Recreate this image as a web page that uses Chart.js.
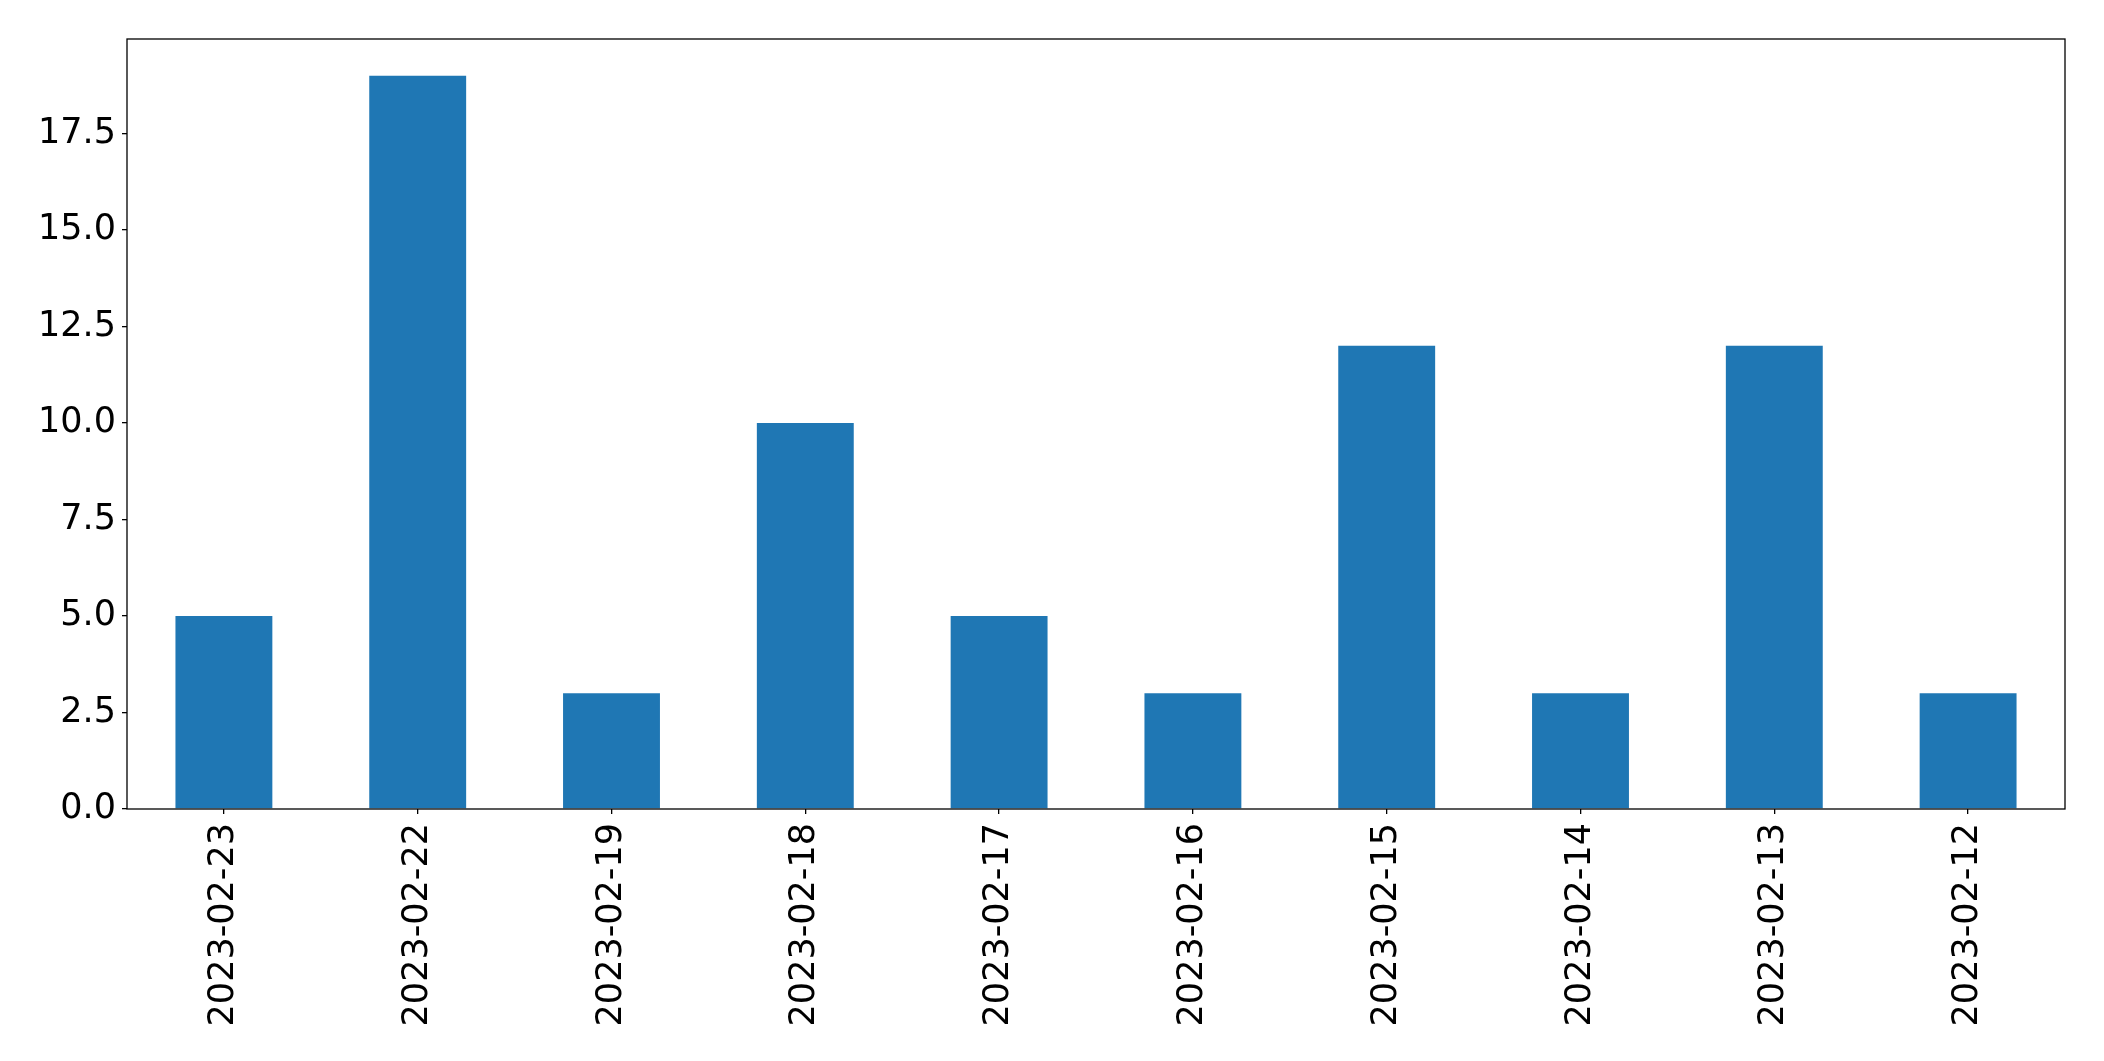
<!DOCTYPE html>
<html>
<head>
<meta charset="utf-8">
<script src="https://cdn.jsdelivr.net/npm/chart.js@4/dist/chart.umd.min.js"></script>
<style>
html,body{margin:0;padding:0;background:#fff;}
canvas{display:block;}
</style>
</head>
<body>
<canvas id="c" width="2104" height="1061"></canvas>
<script>
const categories = ["2023-02-23","2023-02-22","2023-02-19","2023-02-18","2023-02-17","2023-02-16","2023-02-15","2023-02-14","2023-02-13","2023-02-12"];
const values = [5, 19, 3, 10, 5, 3, 12, 3, 12, 3];
const yMax = 19.95;
const yStep = 2.5;

const frame = {
  id: 'frame',
  afterDraw(chart) {
    const a = chart.chartArea, ctx = chart.ctx;
    ctx.save();
    ctx.strokeStyle = '#000';
    ctx.lineWidth = 1.3;
    ctx.strokeRect(a.left, a.top, a.right - a.left, a.bottom - a.top);
    ctx.restore();
  }
};

new Chart(document.getElementById('c'), {
  type: 'bar',
  data: {
    labels: categories,
    datasets: [{ data: values, backgroundColor: '#1f77b4', borderWidth: 0, barPercentage: 0.5, categoryPercentage: 1.0 }]
  },
  options: {
    responsive: false,
    animation: false,
    layout: { padding: { top: 39, right: 39, left: 0, bottom: 0 } },
    plugins: { legend: { display: false }, tooltip: { enabled: false } },
    scales: {
      x: {
        offset: true,
        grid: { display: true, offset: false, drawOnChartArea: false, drawTicks: true, tickLength: 5, color: '#000', lineWidth: 1.3 },
        border: { display: false },
        ticks: { color: '#000', font: { family: 'DejaVu Sans', size: 35 }, maxRotation: 90, minRotation: 90, padding: 9, autoSkip: false },
        afterFit(s) { s.height = 1061 - 809; }
      },
      y: {
        min: 0, max: yMax,
        grid: { display: true, drawOnChartArea: false, drawTicks: true, tickLength: 5, color: '#000', lineWidth: 1.3 },
        border: { display: false },
        ticks: { stepSize: yStep, includeBounds: false, color: '#000', font: { family: 'DejaVu Sans', size: 35 }, padding: 6, callback: v => Number(v).toFixed(1) },
        afterBuildTicks(s) { s.ticks = s.ticks.filter(t => Math.abs(t.value / yStep - Math.round(t.value / yStep)) < 1e-6); },
        afterFit(s) { s.width = 127; }
      }
    }
  },
  plugins: [frame]
});
</script>
</body>
</html>
